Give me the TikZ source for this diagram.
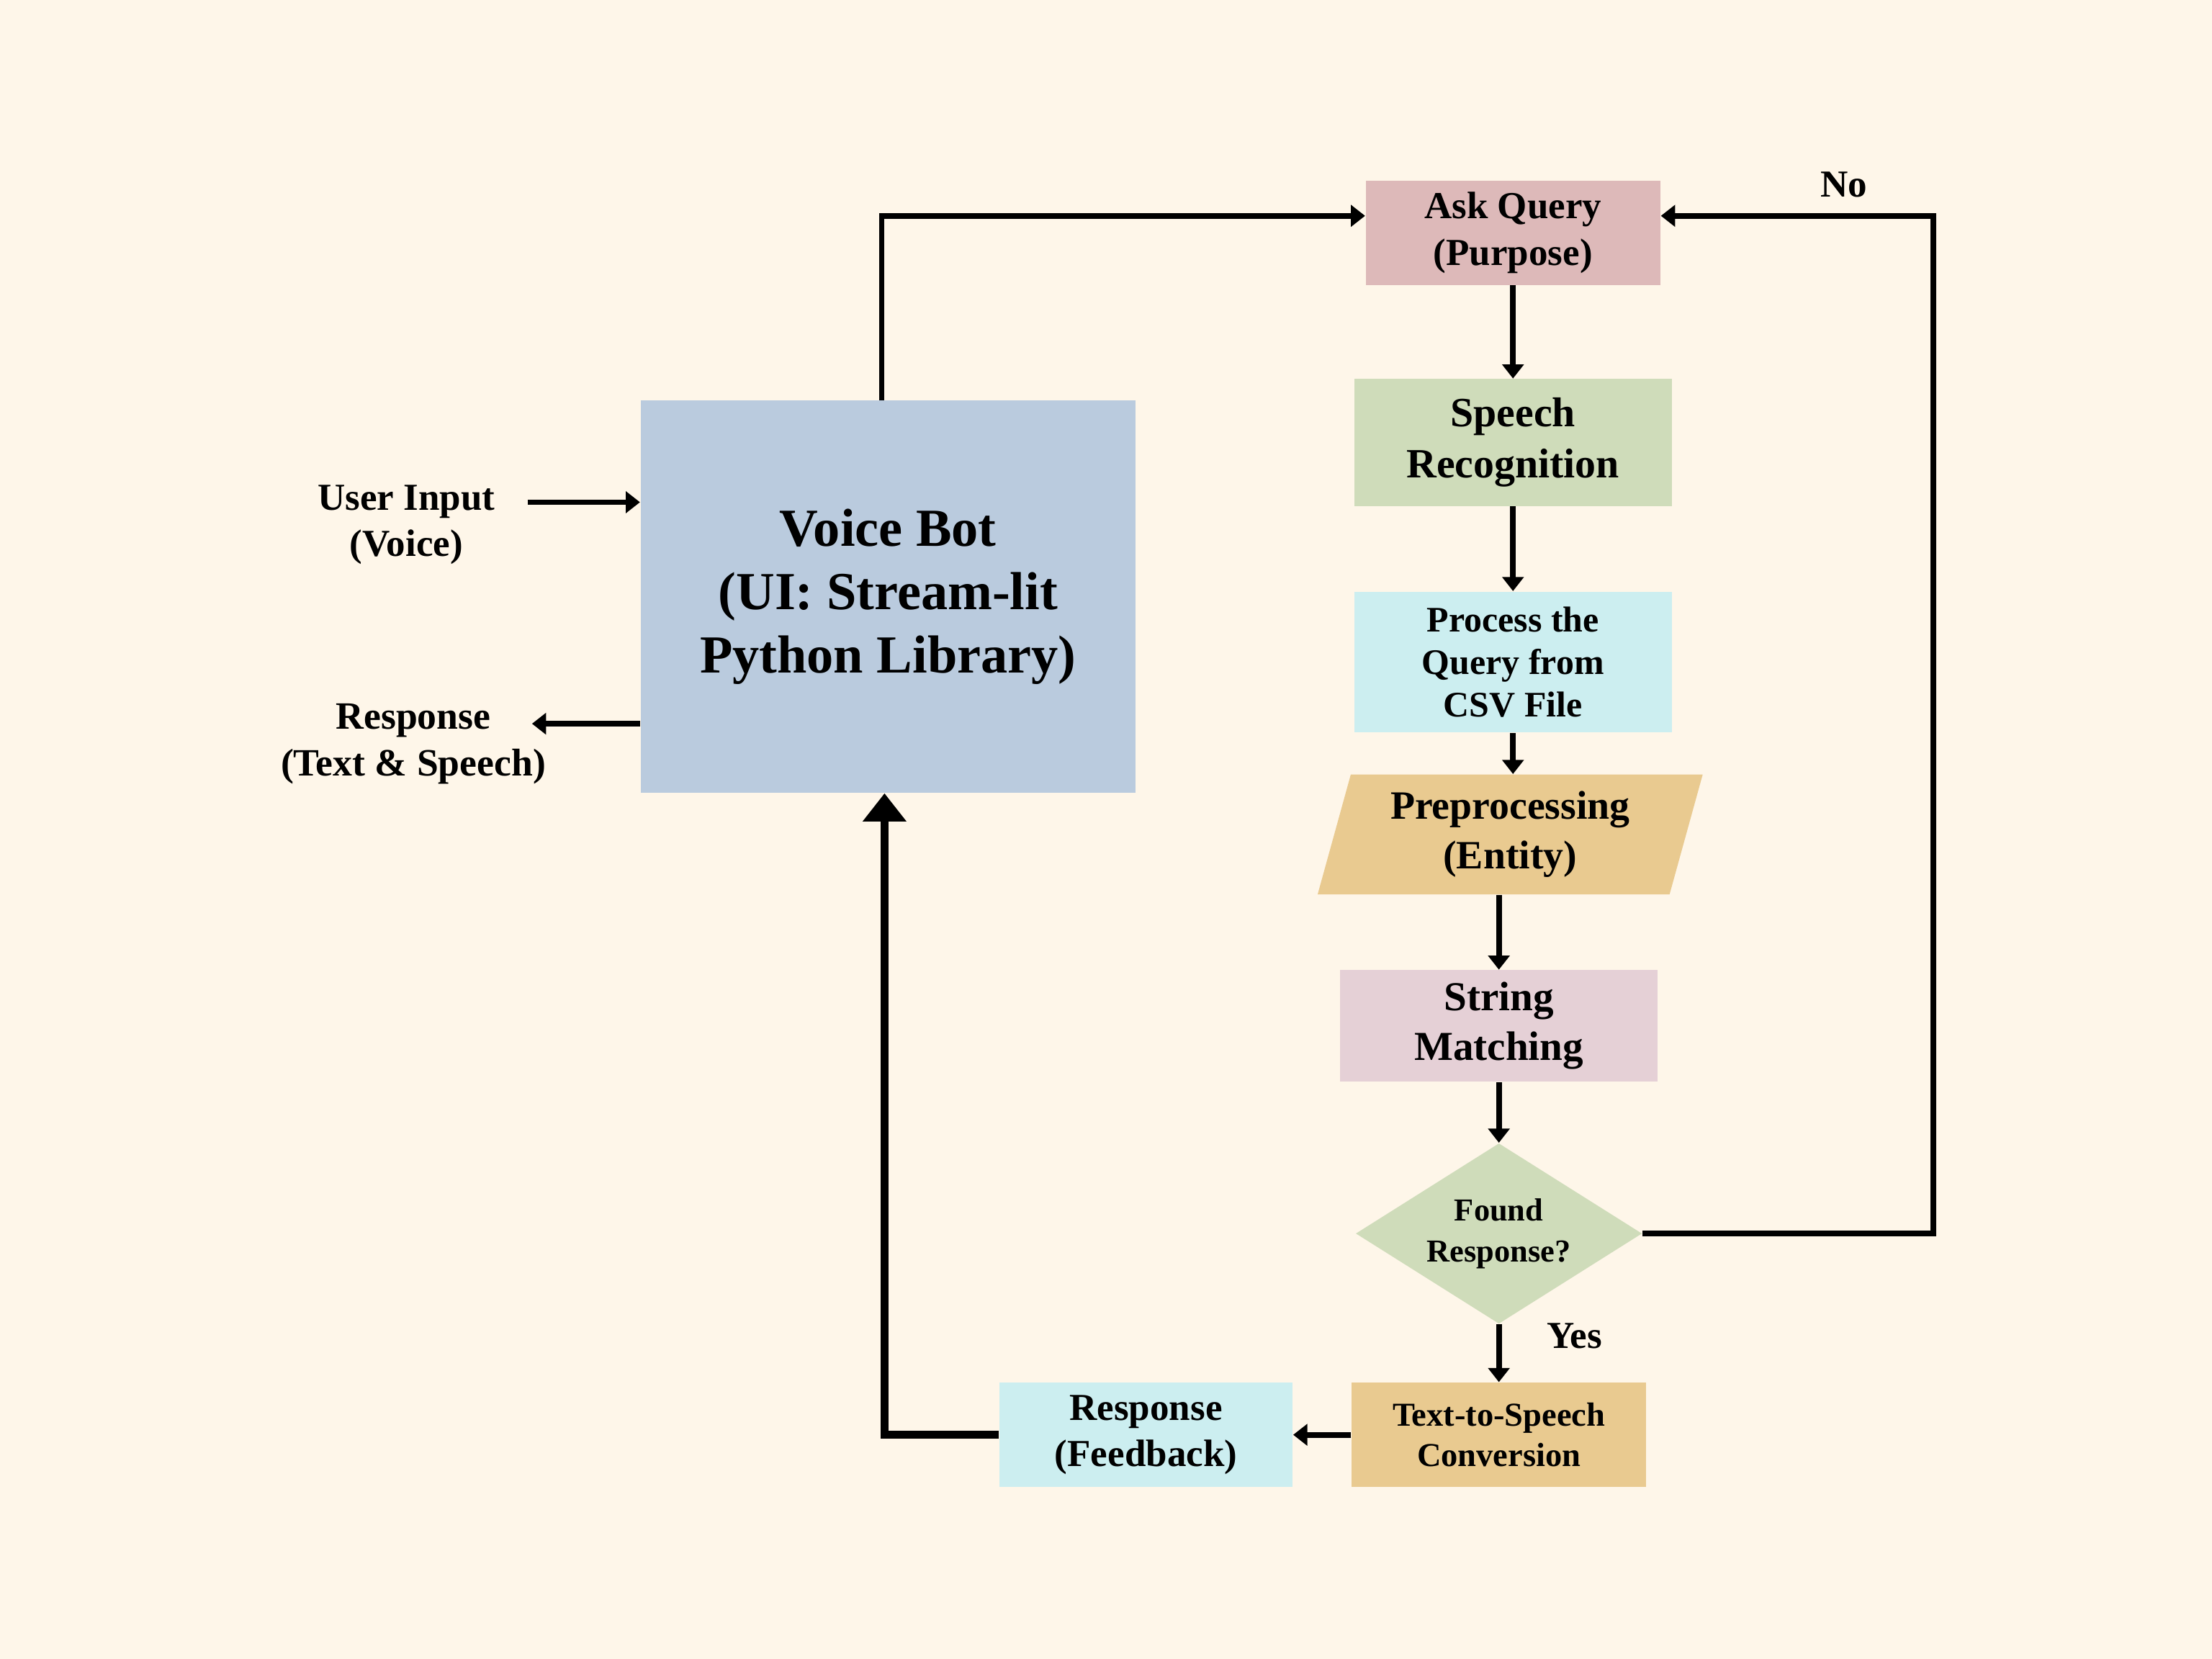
\documentclass[tikz,border=0pt]{standalone}
\usepackage{fontspec}
\setmainfont{Liberation Serif}
\usepackage{xcolor}
\usepackage{tikz}
\usetikzlibrary{
    positioning,
    arrows.meta,
    shapes.geometric
}
\definecolor{bgcream}{RGB}{254,246,233}
\definecolor{botblue}{RGB}{186,203,222}
\definecolor{askpink}{RGB}{221,185,185}
\definecolor{sagegreen}{RGB}{207,220,186}
\definecolor{paleaqua}{RGB}{204,238,240}
\definecolor{sandtan}{RGB}{233,202,144}
\definecolor{dustrose}{RGB}{229,208,214}
\tikzset{
    block/.style={
        rectangle, inner sep=2pt, align=center, text=black
    },
    arrow/.style={
        -{Triangle[length=5.7pt,width=8.5pt]}, line width=2.3pt, draw=black
    },
    bigarrow/.style={
        -{Triangle[length=11.4pt,width=17pt]}, line width=3.4pt, draw=black
    },
    lbl/.style={
        align=center, font=\bfseries\fontsize{15.4}{18.8}\selectfont
    }
}

\begin{document}
\begin{tikzpicture}[
        x=0.02cm, y=-0.02cm,
        botbox/.style={block, fill=botblue, minimum width=7.02cm, minimum height=5.56cm, font=\bfseries\fontsize{21.6}{25.6}\selectfont},
        askbox/.style={block, fill=askpink, minimum width=4.18cm, minimum height=1.48cm, font=\bfseries\fontsize{15.4}{18.8}\selectfont},
        speechbox/.style={block, fill=sagegreen, minimum width=4.5cm, minimum height=1.8cm, font=\bfseries\fontsize{16.8}{20.5}\selectfont},
        procbox/.style={block, fill=paleaqua, minimum width=4.5cm, minimum height=2cm, font=\bfseries\fontsize{14.5}{17}\selectfont},
        prepbox/.style={trapezium, trapezium left angle=70, trapezium right angle=110, trapezium stretches body, fill=sandtan, inner sep=1pt, minimum width=5.46cm, minimum height=1.7cm, align=center, font=\bfseries\fontsize{16.2}{20}\selectfont},
        matchbox/.style={block, fill=dustrose, minimum width=4.5cm, minimum height=1.58cm, font=\bfseries\fontsize{16.6}{20}\selectfont},
        decision/.style={diamond, aspect=1.6, fill=sagegreen, inner sep=0pt, minimum width=4.06cm, minimum height=2.56cm, align=center, font=\bfseries\fontsize{12.9}{16.5}\selectfont},
        ttsbox/.style={block, fill=sandtan, minimum width=4.18cm, minimum height=1.48cm, font=\bfseries\fontsize{13.5}{16.5}\selectfont},
        fbbox/.style={block, fill=paleaqua, minimum width=4.16cm, minimum height=1.48cm, font=\bfseries\fontsize{15.4}{18.8}\selectfont}
    ]

        % Canvas
        \fill[bgcream] (0,0) rectangle (1568,1176);
        \useasboundingbox (0,0) rectangle (1568,1176);

        % Voice bot and its outer texts
        \node[botbox] (voicebot) at (629.5,423) {Voice Bot\\(UI: Stream-lit\\Python Library)};
        \node[lbl] (userin) at (288,372) {User Input\\(Voice)};
        \node[lbl, font=\bfseries\fontsize{15.6}{18.8}\selectfont] (respout) at (293,527.5) {Response\\(Text \& Speech)};

        % Query pipeline
        \node[askbox] (askq) at (1072.5,165) {Ask Query\\(Purpose)};
        \node[speechbox, below=1.32cm of askq] (speech) {Speech\\Recognition};
        \node[procbox, below=1.2cm of speech] (process) {Process the\\Query from\\CSV File};
        \node[prepbox, below=0.58cm of process, xshift=-0.04cm] (preproc) {Preprocessing\\(Entity)};
        \node[matchbox, below=1.06cm of preproc, xshift=-0.16cm] (strmatch) {String\\Matching};
        \node[decision, below=0.86cm of strmatch] (found) {Found\\Response?};
        \node[ttsbox, below=0.82cm of found] (tts) {Text-to-Speech\\Conversion};
        \node[fbbox, left=0.82cm of tts] (feedback) {Response\\(Feedback)};

        % Branch labels
        \node[lbl] (nolbl) at (1307,131) {No};
        \node[lbl] (yeslbl) at (1116,947) {Yes};

        % Arrows
        \draw[arrow] ([xshift=0.34cm,yshift=0.32cm]userin.east) -- ([yshift=0.32cm]userin.east -| voicebot.west);
        \draw[arrow] ([yshift=0.29cm]respout.east -| voicebot.west) -- ([xshift=-0.32cm,yshift=0.29cm]respout.east);
        \draw[arrow] ([xshift=-0.09cm]voicebot.north) |- ([yshift=0.24cm]askq.west);
        \draw[arrow] (askq) -- (speech);
        \draw[arrow] (speech) -- (process);
        \draw[arrow] (process.south) -- (process.south |- preproc.north);
        \draw[arrow] (strmatch.north |- preproc.south) -- (strmatch.north);
        \draw[arrow] (strmatch) -- (found);
        \draw[arrow] (found.east) -- ++(4.12cm,0) |- ([yshift=0.24cm]askq.east);
        \draw[arrow] (found) -- (tts);
        \draw[arrow] (tts) -- (feedback);
        \draw[bigarrow] (feedback.west) -| ([xshift=-0.05cm]voicebot.south);

    \end{tikzpicture}
\end{document}
